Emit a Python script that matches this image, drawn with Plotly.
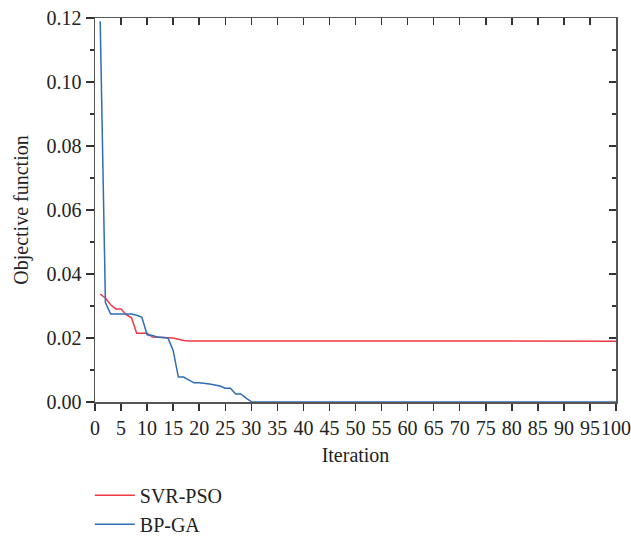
import plotly.graph_objects as go

# Iterations
iter_svr = [1, 2, 3, 4, 5, 6, 7, 8, 9, 10, 11, 12, 13, 14, 15, 16, 17, 18, 19, 20, 100]
svr_pso = [0.0337, 0.0325, 0.0304, 0.0291, 0.0291, 0.0273, 0.0263, 0.0215, 0.0215, 0.0215,
           0.0203, 0.0202, 0.0202, 0.0201, 0.0200, 0.0196, 0.0192, 0.0191, 0.0191, 0.0190, 0.0190]

iter_bp = [1, 2, 3, 4, 5, 6, 7, 8, 9, 10, 11, 12, 13, 14, 15, 16, 17, 18, 19, 20, 21, 22,
           23, 24, 25, 26, 27, 28, 29, 30, 31, 100]
bp_ga = [0.119, 0.0311, 0.0275, 0.0275, 0.0275, 0.0275, 0.0275, 0.0271, 0.0265, 0.0210,
         0.0208, 0.0203, 0.0202, 0.0200, 0.0161, 0.0078, 0.0078, 0.0070, 0.0060, 0.0060,
         0.0059, 0.0056, 0.0053, 0.0050, 0.0043, 0.0043, 0.0025, 0.0025, 0.0012, 0.0001,
         0.0, 0.0]

x_ticks = list(range(0, 101, 5))

font_family = "Liberation Serif"
axis_color = "#555555"
FS = 20

fig = go.Figure()
fig.add_trace(go.Scatter(x=iter_svr, y=svr_pso, mode="lines", name="SVR-PSO",
                         line=dict(color="#EE3A43", width=1.5)))
fig.add_trace(go.Scatter(x=iter_bp, y=bp_ga, mode="lines", name="BP-GA",
                         line=dict(color="#2E6DB8", width=1.5)))
# helper trace so mirror axes (top/right) are drawn
fig.add_trace(go.Scatter(x=[None], y=[None], xaxis="x2", yaxis="y2", showlegend=False,
                         hoverinfo="skip"))

fig.update_layout(
    width=631, height=537,
    margin=dict(l=95, r=15, t=18, b=135, autoexpand=False),
    paper_bgcolor="white", plot_bgcolor="white",
    font=dict(family=font_family, size=FS, color="#222222"),
    showlegend=True,
    dragmode=False,
    legend=dict(x=-0.010, y=-0.192, xanchor="left", yanchor="top",
                font=dict(size=FS, family=font_family), tracegroupgap=0,
                itemwidth=40, bgcolor="rgba(0,0,0,0)"),
    xaxis=dict(range=[0, 100], tickvals=x_ticks, ticktext=[str(v) for v in x_ticks],
               tickangle=0, ticklabeloverflow="allow", fixedrange=True,
               ticks="outside", ticklen=7, tickwidth=1.5, tickcolor="#333333",
               showline=True, linecolor=axis_color, linewidth=1.5, mirror=True,
               showgrid=False, zeroline=False,
               title=dict(text="Iteration", font=dict(size=FS), standoff=10),
               tickfont=dict(size=FS)),
    yaxis=dict(range=[0, 0.12], dtick=0.02, tick0=0, tickformat=".2f",
               ticklabeloverflow="allow", fixedrange=True,
               ticks="outside", ticklen=8, tickwidth=1.5, tickcolor="#333333",
               minor=dict(dtick=0.01, ticks="outside", ticklen=4, tickwidth=1.5,
                          tickcolor="#333333"),
               showline=True, linecolor=axis_color, linewidth=1.5, mirror=True,
               showgrid=False, zeroline=False,
               title=dict(text="Objective function", font=dict(size=FS), standoff=12),
               tickfont=dict(size=FS)),
    xaxis2=dict(range=[0, 100], tickvals=x_ticks, overlaying="x", side="top", anchor="y",
                fixedrange=True,
                ticks="inside", ticklen=7, tickwidth=1.5, tickcolor="#333333",
                showticklabels=False, showline=True, linecolor=axis_color, linewidth=1.5,
                showgrid=False, zeroline=False),
    yaxis2=dict(range=[0, 0.12], dtick=0.02, tick0=0, overlaying="y", side="right",
                anchor="x", fixedrange=True,
                ticks="inside", ticklen=7, tickwidth=1.5, tickcolor="#333333",
                minor=dict(dtick=0.01, ticks="inside", ticklen=4, tickwidth=1.5,
                           tickcolor="#333333"),
                showticklabels=False, showline=False,
                showgrid=False, zeroline=False),
)

fig.write_html("out.html", config={"displayModeBar": False, "staticPlot": True},
               post_script="document.body.style.margin='0';document.body.style.overflow='hidden';")
